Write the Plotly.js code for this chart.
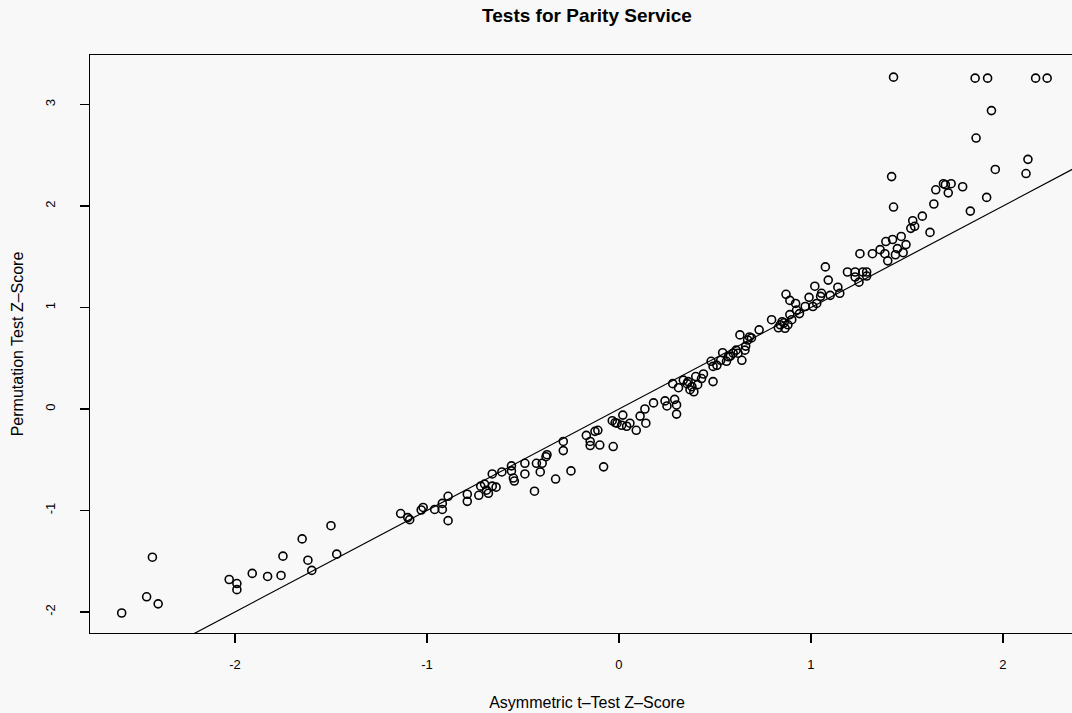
<!DOCTYPE html>
<html>
<head>
<meta charset="utf-8">
<script src="https://cdn.plot.ly/plotly-3.0.1.min.js"></script>
<style>
html,body{margin:0;padding:0;overflow:hidden;background:#f8f8f8;}
#chart{width:1090px;height:713px;}
</style>
</head>
<body>
<div id="chart"></div>
<script>
// Asymmetric t-Test Z-Score (x) vs Permutation Test Z-Score (y)
const asymZ = [
-2.59,-2.43,-2.46,-2.40,-2.03,-1.99,-1.99,-1.91,-1.83,-1.76,-1.75,-1.65,-1.62,-1.60,-1.50,-1.47,
-1.137,-1.10,-1.09,-1.03,-1.02,-0.96,-0.92,-0.92,-0.89,-0.89,-0.79,-0.79,-0.73,-0.72,-0.70,-0.69,-0.68,-0.66,-0.66,-0.64,-0.61,-0.56,-0.56,-0.55,-0.545,-0.49,-0.49,-0.44,-0.43,-0.41,-0.40,-0.38,-0.375,-0.33,-0.29,-0.29,-0.25,-0.17,-0.15,-0.15,-0.125,-0.11,-0.10,-0.08,-0.03,-0.035,-0.02,
-0.01,0.014,0.02,0.04,0.057,0.09,0.11,0.135,0.14,0.18,0.24,0.25,0.29,0.30,0.30,0.28,0.31,0.335,0.355,0.37,0.39,0.40,0.41,0.44,0.49,0.48,0.49,0.51,0.53,0.54,0.56,0.57,0.595,0.61,0.63,0.64,0.656,0.67,0.68,0.69,0.73,0.795,0.84,0.85,0.865,0.88,0.89,
0.38,0.36,0.43,0.58,0.62,0.66,0.83,0.86,0.90,
0.87,0.89,0.92,0.925,0.94,0.97,0.99,1.01,1.03,1.02,1.05,1.055,1.075,1.09,1.10,1.14,1.15,1.19,1.23,1.23,1.255,1.25,1.27,1.29,1.29,1.32,1.36,1.385,1.39,1.40,1.425,1.44,1.45,1.47,1.48,1.495,1.43,1.52,1.53,1.54,1.58,1.62,1.64,
1.43,1.855,1.92,2.17,2.23,1.94,1.86,2.13,2.12,1.96,1.42,1.65,1.70,1.69,1.73,1.715,1.79,1.915,1.83
];
const permZ = [
-2.01,-1.46,-1.85,-1.92,-1.68,-1.72,-1.78,-1.62,-1.65,-1.64,-1.45,-1.28,-1.49,-1.59,-1.15,-1.43,
-1.03,-1.07,-1.09,-0.995,-0.97,-0.99,-0.93,-0.99,-0.86,-1.10,-0.84,-0.91,-0.85,-0.76,-0.74,-0.80,-0.83,-0.64,-0.76,-0.77,-0.62,-0.56,-0.61,-0.68,-0.71,-0.535,-0.64,-0.81,-0.535,-0.62,-0.535,-0.47,-0.45,-0.69,-0.32,-0.41,-0.61,-0.26,-0.32,-0.36,-0.22,-0.21,-0.355,-0.57,-0.37,-0.115,-0.135,
-0.14,-0.16,-0.06,-0.17,-0.14,-0.21,-0.07,0.0,-0.14,0.06,0.08,0.03,0.095,0.04,-0.05,0.25,0.21,0.285,0.25,0.19,0.17,0.32,0.24,0.345,0.27,0.47,0.42,0.43,0.48,0.555,0.47,0.515,0.55,0.58,0.73,0.48,0.58,0.68,0.71,0.70,0.78,0.88,0.83,0.86,0.795,0.83,0.93,
0.22,0.27,0.30,0.52,0.55,0.62,0.80,0.85,0.88,
1.13,1.07,1.04,0.975,0.94,1.01,1.10,1.01,1.04,1.21,1.11,1.14,1.40,1.27,1.12,1.20,1.14,1.35,1.35,1.30,1.53,1.25,1.35,1.35,1.31,1.53,1.57,1.53,1.65,1.46,1.67,1.52,1.58,1.70,1.54,1.62,1.99,1.78,1.855,1.80,1.90,1.74,2.02,
3.27,3.26,3.26,3.26,3.26,2.94,2.67,2.46,2.32,2.36,2.29,2.16,2.21,2.22,2.22,2.13,2.19,2.085,1.95
];
// reference line y = x
const refLineX = [-3, 3];
const refLineY = [-3, 3];

const xTickVals = [-2, -1, 0, 1, 2];
const xTickText = ["-2", "-1", "0", "1", "2"];
const yTickVals = [-2, -1, 0, 1, 2, 3];
const yTickText = ["-2", "-1", "0", "1", "2", "3"];

const FONT = '"Liberation Sans", Arial, Helvetica, sans-serif';

const traces = [
  {
    x: asymZ, y: permZ, type: 'scatter', mode: 'markers',
    marker: {symbol: 'circle-open', size: 8, color: '#000', line: {width: 1.6, color: '#000'}},
    hoverinfo: 'x+y', showlegend: false
  },
  {
    x: refLineX, y: refLineY, type: 'scatter', mode: 'lines',
    line: {color: '#000', width: 1.2}, hoverinfo: 'skip', showlegend: false
  }
];

const layout = {
  width: 1090, height: 713,
  margin: {l: 90, r: 6, t: 55, b: 80, pad: 0},
  paper_bgcolor: '#f8f8f8', plot_bgcolor: '#f8f8f8',
  font: {family: FONT, color: '#000', size: 13},
  title: {
    text: 'Tests for Parity Service',
    font: {family: FONT, size: 19, weight: 'bold', color: '#000'},
    x: 0.5, xref: 'paper', y: 1 - 15/713, yref: 'container', yanchor: 'middle'
  },
  xaxis: {
    range: [-2.755, 2.422], tickmode: 'array', tickvals: xTickVals, ticktext: xTickText,
    ticks: 'outside', ticklen: 9, tickwidth: 1.3, tickcolor: '#000',
    showgrid: false, zeroline: false, showline: true, mirror: true, linecolor: '#000', linewidth: 1.2,
    tickfont: {size: 13}, ticklabelstandoff: 10,
    title: {text: 'Asymmetric t\u2013Test Z\u2013Score', font: {size: 16}, standoff: 26}
  },
  yaxis: {
    range: [-2.207, 3.488], tickmode: 'array', tickvals: yTickVals, ticktext: yTickText,
    tickangle: -90,
    ticks: 'outside', ticklen: 9, tickwidth: 1.3, tickcolor: '#000',
    showgrid: false, zeroline: false, showline: true, mirror: false, linecolor: '#000', linewidth: 1.2,
    tickfont: {size: 13}, ticklabelstandoff: 20,
    title: {text: 'Permutation Test Z\u2013Score', font: {size: 16}, standoff: 15}
  }
};

Plotly.newPlot('chart', traces, layout, {displayModeBar: false, staticPlot: true});
</script>
</body>
</html>
